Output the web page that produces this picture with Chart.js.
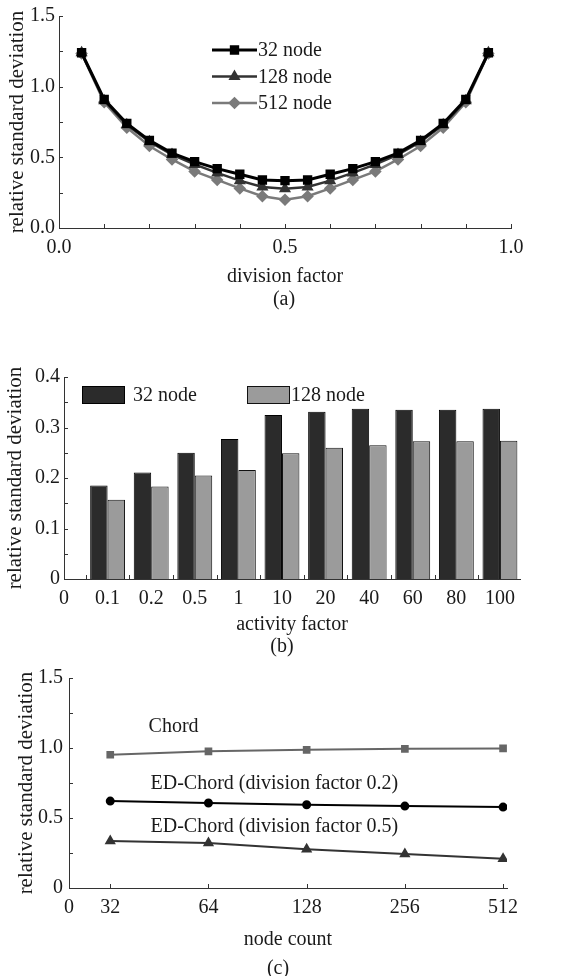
<!DOCTYPE html>
<html>
<head>
<meta charset="utf-8">
<script src="https://cdn.jsdelivr.net/npm/chart.js@4.4.1/dist/chart.umd.min.js"></script>
<style>
  body { margin: 0; background: #fff; width: 569px; height: 976px; overflow: hidden; position: relative; font-family: "Liberation Serif", serif; color: #1a1a1a; }
  .panel { position: absolute; left: 0; width: 569px; }
  .cap { position: absolute; width: 60px; text-align: center; font-size: 20px; line-height: 24px; }
</style>
</head>
<body>
<div class="panel" style="top:0;height:310px"><canvas id="chartA" width="569" height="310"></canvas></div>
<div class="cap" style="top:286px;left:254px">(a)</div>
<div class="panel" style="top:330px;height:330px"><canvas id="chartB" width="569" height="330"></canvas></div>
<div class="cap" style="top:633px;left:252px">(b)</div>
<div class="panel" style="top:660px;height:316px"><canvas id="chartC" width="569" height="316"></canvas></div>
<div class="cap" style="top:955px;left:248px">(c)</div>
<script>
// ===================
// Data
// ===================
// (a) division factor sweep
const divisionFactors = [0.05, 0.1, 0.15, 0.2, 0.25, 0.3, 0.35, 0.4, 0.45, 0.5, 0.55, 0.6, 0.65, 0.7, 0.75, 0.8, 0.85, 0.9, 0.95];
const rsd32  = [1.24, 0.91, 0.74, 0.62, 0.53, 0.47, 0.42, 0.38, 0.34, 0.335, 0.34, 0.38, 0.42, 0.47, 0.53, 0.62, 0.74, 0.91, 1.24];
const rsd128 = [1.24, 0.90, 0.73, 0.61, 0.52, 0.45, 0.39, 0.335, 0.29, 0.277, 0.29, 0.335, 0.39, 0.45, 0.52, 0.61, 0.73, 0.90, 1.24];
const rsd512 = [1.235, 0.89, 0.71, 0.58, 0.485, 0.40, 0.34, 0.28, 0.225, 0.20, 0.225, 0.28, 0.34, 0.40, 0.485, 0.58, 0.71, 0.89, 1.235];
const seriesA = ['32 node', '128 node', '512 node'];

// (b) activity factor
const activityFactors = ['0.1', '0.2', '0.5', '1', '10', '20', '40', '60', '80', '100'];
const bar32  = [0.185, 0.211, 0.250, 0.277, 0.325, 0.331, 0.337, 0.335, 0.335, 0.337];
const bar128 = [0.157, 0.183, 0.205, 0.216, 0.249, 0.260, 0.265, 0.273, 0.273, 0.274];
const seriesB = ['32 node', '128 node'];

// (c) node count
const nodeCounts = ['32', '64', '128', '256', '512'];
const chord     = [0.952, 0.976, 0.987, 0.994, 0.997];
const edChord02 = [0.621, 0.607, 0.595, 0.585, 0.578];
const edChord05 = [0.336, 0.322, 0.277, 0.242, 0.209];
const seriesC = ['Chord', 'ED-Chord (division factor 0.2)', 'ED-Chord (division factor 0.5)'];

// tick positions
const ticksAx = [0, 0.1, 0.2, 0.3, 0.4, 0.5, 0.6, 0.7, 0.8, 0.9, 1.0];
const ticksAy = [0.25, 0.5, 0.75, 1.0, 1.25, 1.5];
const ticksBx = [0.5, 1.5, 2.5, 3.5, 4.5, 5.5, 6.5, 7.5, 8.5, 9.5];
const ticksBy = [0.05, 0.1, 0.15, 0.2, 0.25, 0.3, 0.35, 0.4];
const ticksCy = [0.25, 0.5, 0.75, 1.0, 1.25, 1.5];

Chart.defaults.font.family = '"Liberation Serif", "Times New Roman", serif';
Chart.defaults.font.size = 20;
Chart.defaults.color = '#1a1a1a';
Chart.defaults.animation = false;

// ===================
// Small plugins
// ===================
const insideTicks = {
  id: 'insideTicks',
  afterDraw(chart, args, opts) {
    const { ctx, chartArea, scales } = chart;
    ctx.save();
    ctx.strokeStyle = '#333';
    ctx.lineWidth = 1;
    ctx.beginPath();
    (opts.x || []).forEach(v => {
      const px = Math.round(scales.x.getPixelForValue(v)) + 0.5;
      ctx.moveTo(px, chartArea.bottom);
      ctx.lineTo(px, chartArea.bottom - (opts.len || 4));
    });
    (opts.y || []).forEach(v => {
      const py = Math.round(scales.y.getPixelForValue(v)) + 0.5;
      ctx.moveTo(chartArea.left, py);
      ctx.lineTo(chartArea.left + (opts.len || 4), py);
    });
    ctx.stroke();
    ctx.restore();
  }
};

const lineLegend = {
  id: 'lineLegend',
  afterDraw(chart, args, opts) {
    if (!opts.display) return;
    const { ctx, chartArea } = chart;
    ctx.save();
    chart.data.datasets.forEach((ds, i) => {
      const x0 = chartArea.left + opts.x;
      const y = chartArea.top + opts.y + i * opts.gap;
      ctx.strokeStyle = ds.borderColor;
      ctx.lineWidth = ds.borderWidth;
      ctx.beginPath();
      ctx.moveTo(x0, y);
      ctx.lineTo(x0 + opts.w, y);
      ctx.stroke();
      ctx.fillStyle = ds.pointBackgroundColor;
      ctx.strokeStyle = ds.pointBackgroundColor;
      Chart.helpers.drawPoint(ctx, { pointStyle: ds.pointStyle, radius: ds.pointRadius, rotation: 0, borderWidth: 1 }, x0 + opts.w / 2, y);
      ctx.fillStyle = '#1a1a1a';
      ctx.textBaseline = 'middle';
      ctx.textAlign = 'left';
      ctx.font = '20px "Liberation Serif"';
      ctx.fillText(ds.label, x0 + opts.w + 1, y + 1);
    });
    ctx.restore();
  }
};

const boxLegend = {
  id: 'boxLegend',
  afterDraw(chart, args, opts) {
    if (!opts.display) return;
    const { ctx, chartArea } = chart;
    ctx.save();
    chart.data.datasets.forEach((ds, i) => {
      const it = opts.items[i];
      const x0 = chartArea.left + it.box;
      const y0 = chartArea.top + opts.y;
      ctx.fillStyle = ds.backgroundColor;
      ctx.fillRect(x0, y0, opts.w, opts.h);
      ctx.strokeStyle = ds.borderColor;
      ctx.lineWidth = 1;
      ctx.strokeRect(x0 + 0.5, y0 + 0.5, opts.w, opts.h);
      ctx.fillStyle = '#1a1a1a';
      ctx.textBaseline = 'middle';
      ctx.textAlign = 'left';
      ctx.font = '20px "Liberation Serif"';
      ctx.fillText(ds.label, chartArea.left + it.text, y0 + opts.h / 2 + 1);
    });
    ctx.restore();
  }
};

const lineNotes = {
  id: 'lineNotes',
  afterDraw(chart, args, opts) {
    if (!opts.notes) return;
    const { ctx, scales } = chart;
    ctx.save();
    ctx.fillStyle = '#1a1a1a';
    ctx.textBaseline = 'middle';
    ctx.textAlign = 'left';
    ctx.font = '20px "Liberation Serif"';
    opts.notes.forEach(n => {
      ctx.fillText(chart.data.datasets[n.ds].label, scales.x.getPixelForValue(n.x), scales.y.getPixelForValue(n.y));
    });
    ctx.restore();
  }
};

Chart.register(insideTicks, lineLegend, boxLegend, lineNotes);

function fixWidth(w) { return s => { s.width = w; }; }
function fixHeight(h) { return s => { s.height = h; }; }

const axisBorder = { display: true, color: '#333', width: 1 };
const noGrid = { display: false, drawTicks: false };

// ===================
// (a) division factor
// ===================
function xy(xs, ys) { return xs.map((x, i) => ({ x: x, y: ys[i] })); }

new Chart(document.getElementById('chartA'), {
  type: 'line',
  data: {
    datasets: [
      { label: seriesA[0], data: xy(divisionFactors, rsd32), borderColor: '#000', pointBackgroundColor: '#000', pointBorderColor: '#000', borderWidth: 3, pointStyle: 'rect', pointRadius: 4.5 },
      { label: seriesA[1], data: xy(divisionFactors, rsd128), borderColor: '#333', pointBackgroundColor: '#333', pointBorderColor: '#333', borderWidth: 2.5, pointStyle: 'triangle', pointRadius: 4.5 },
      { label: seriesA[2], data: xy(divisionFactors, rsd512), borderColor: '#7a7a7a', pointBackgroundColor: '#7a7a7a', pointBorderColor: '#7a7a7a', borderWidth: 2.5, pointStyle: 'rectRot', pointRadius: 4.5 }
    ]
  },
  options: {
    responsive: false,
    layout: { padding: { left: 0, top: 15, right: 58, bottom: 0 } },
    plugins: {
      legend: { display: false },
      tooltip: { enabled: false },
      insideTicks: { x: ticksAx, y: ticksAy, len: 4 },
      lineLegend: { display: true, x: 153, y: 34, gap: 26.5, w: 45 }
    },
    scales: {
      x: {
        type: 'linear', min: 0, max: 1,
        grid: noGrid, border: axisBorder,
        ticks: { stepSize: 0.5, padding: 8, callback: v => v.toFixed(1) },
        title: { display: true, text: 'division factor', padding: { top: 0, bottom: 21 } },
        afterFit: fixHeight(82)
      },
      y: {
        min: 0, max: 1.5,
        grid: noGrid, border: axisBorder,
        ticks: { stepSize: 0.5, padding: 4, callback: v => v.toFixed(1) },
        title: { display: true, text: 'relative standard deviation', font: { size: 21 }, padding: { top: 5, bottom: 0 } },
        afterFit: fixWidth(59)
      }
    }
  }
});

// ===================
// (b) activity factor
// ===================
const xLabelsB = ['0'].concat(activityFactors);

new Chart(document.getElementById('chartB'), {
  type: 'bar',
  data: {
    datasets: [
      { label: seriesB[0], data: bar32.map((v, i) => ({ x: i + 1, y: v })), backgroundColor: '#2b2b2b', borderColor: '#000', borderWidth: 1 },
      { label: seriesB[1], data: bar128.map((v, i) => ({ x: i + 1, y: v })), backgroundColor: '#9b9b9b', borderColor: '#111', borderWidth: 1 }
    ]
  },
  options: {
    responsive: false,
    categoryPercentage: 0.8,
    barPercentage: 1.0,
    layout: { padding: { left: 0, top: 47, right: 49, bottom: 0 } },
    plugins: {
      legend: { display: false },
      tooltip: { enabled: false },
      insideTicks: { x: ticksBx, y: ticksBy, len: 4 },
      boxLegend: { display: true, y: 9, w: 42, h: 17, items: [{ box: 18, text: 69 }, { box: 183, text: 227 }] }
    },
    scales: {
      x: {
        type: 'linear', min: 0, max: 10.46, offset: false,
        grid: noGrid, border: axisBorder,
        afterBuildTicks: s => { s.ticks = xLabelsB.map((l, i) => ({ value: i })); },
        ticks: { padding: 8, autoSkip: false, maxRotation: 0, callback: (v, i) => xLabelsB[i] },
        title: { display: true, text: 'activity factor', padding: { top: 0, bottom: 23 } },
        afterFit: fixHeight(81)
      },
      y: {
        min: 0, max: 0.4,
        grid: noGrid, border: axisBorder,
        ticks: { stepSize: 0.1, padding: 4 },
        title: { display: true, text: 'relative standard deviation', font: { size: 21 }, padding: { top: 3, bottom: 0 } },
        afterFit: fixWidth(64)
      }
    }
  }
});

// ===================
// (c) node count
// ===================
const xLabelsC = ['0'].concat(nodeCounts);
const xMinC = -0.42;

new Chart(document.getElementById('chartC'), {
  type: 'line',
  data: {
    datasets: [
      { label: seriesC[0], data: chord.map((v, i) => ({ x: i, y: v })), borderColor: '#666', pointBackgroundColor: '#666', pointBorderColor: '#666', borderWidth: 2, pointStyle: 'rect', pointRadius: 4 },
      { label: seriesC[1], data: edChord02.map((v, i) => ({ x: i, y: v })), borderColor: '#000', pointBackgroundColor: '#000', pointBorderColor: '#000', borderWidth: 2, pointStyle: 'circle', pointRadius: 3.5 },
      { label: seriesC[2], data: edChord05.map((v, i) => ({ x: i, y: v })), borderColor: '#333', pointBackgroundColor: '#333', pointBorderColor: '#333', borderWidth: 2, pointStyle: 'triangle', pointRadius: 4.5 }
    ]
  },
  options: {
    responsive: false,
    layout: { padding: { left: 0, top: 16, right: 62, bottom: 0 } },
    plugins: {
      legend: { display: false },
      tooltip: { enabled: false },
      insideTicks: { x: [0, 1, 2, 3, 4], y: ticksCy, len: 4 },
      lineNotes: { notes: [{ ds: 0, x: 0.39, y: 1.15 }, { ds: 1, x: 0.41, y: 0.743 }, { ds: 2, x: 0.41, y: 0.44 }] }
    },
    scales: {
      x: {
        type: 'linear', min: xMinC, max: 4.04,
        grid: noGrid, border: axisBorder,
        afterBuildTicks: s => { s.ticks = xLabelsC.map((l, i) => ({ value: i === 0 ? xMinC : i - 1 })); },
        ticks: { padding: 8, autoSkip: false, maxRotation: 0, callback: (v, i) => xLabelsC[i] },
        title: { display: true, text: 'node count', padding: { top: 0, bottom: 24 } },
        afterFit: fixHeight(88)
      },
      y: {
        min: 0, max: 1.5,
        grid: noGrid, border: axisBorder,
        ticks: { stepSize: 0.5, padding: 6, callback: v => (v === 0 ? '0' : v.toFixed(1)) },
        title: { display: true, text: 'relative standard deviation', font: { size: 21 }, padding: { top: 14, bottom: 0 } },
        afterFit: fixWidth(69)
      }
    }
  }
});
</script>
</body>
</html>
